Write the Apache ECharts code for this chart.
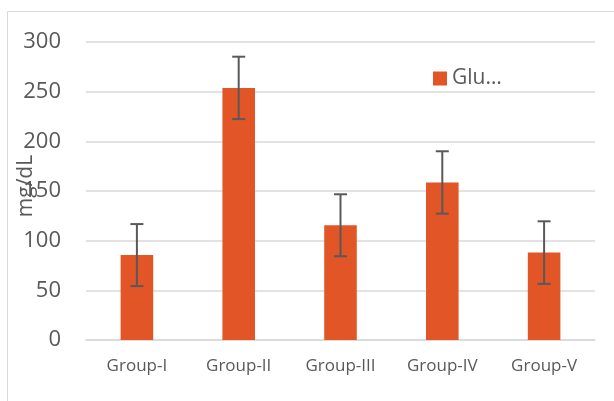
<!DOCTYPE html>
<html>
<head>
<meta charset="utf-8">
<script src="https://cdn.jsdelivr.net/npm/echarts@6/dist/echarts.min.js"></script>
<style>
html,body{margin:0;padding:0;background:#fff;}
#c{width:614px;height:401px;}
</style>
</head>
<body>
<div id="c"></div>
<script>
var categories = ['Group-I', 'Group-II', 'Group-III', 'Group-IV', 'Group-V'];
var seriesName = 'Glu…';
var means = [85.5, 253.8, 115.5, 158.6, 88];
var errors = [31.2, 31.4, 31.2, 31.4, 31.5];
var yTicks = [0, 50, 100, 150, 200, 250, 300];

var errData = means.map(function (m, i) { return [i, m - errors[i], m + errors[i]]; });

var chart = echarts.init(document.getElementById('c'));
chart.setOption({
  animation: false,
  backgroundColor: '#fff',
  graphic: [{
    type: 'rect',
    shape: { x: 7.5, y: 11.5, width: 700, height: 500 },
    style: { fill: 'none', stroke: '#d9d9d9', lineWidth: 1 },
    silent: true
  }],
  grid: { left: 86, right: 19, top: 42, bottom: 61, containLabel: false, outerBoundsMode: 'none' },
  legend: {
    data: [seriesName],
    left: 428, top: 63,
    icon: 'rect', itemWidth: 14, itemHeight: 14, itemGap: 6,
    textStyle: { fontFamily: 'Open Sans', fontSize: 21, color: '#595959' }
  },
  xAxis: {
    type: 'category',
    data: categories,
    axisLine: { lineStyle: { color: '#d9d9d9', width: 1.5 } },
    axisTick: { show: false },
    axisLabel: { fontFamily: 'Open Sans', fontSize: 17, color: '#595959', margin: 18 }
  },
  yAxis: {
    type: 'value',
    min: yTicks[0], max: yTicks[yTicks.length - 1], interval: 50,
    name: 'mg/dL',
    nameLocation: 'middle',
    nameMoveOverlap: false,
    nameGap: 49,
    nameTextStyle: { fontFamily: 'Open Sans', fontSize: 21, color: '#595959', padding: [0, 0, 0, 10] },
    axisLine: { show: false },
    axisTick: { show: false },
    splitLine: { lineStyle: { color: '#d9d9d9', width: 1.5 } },
    axisLabel: { fontFamily: 'Open Sans', fontSize: 22, color: '#595959', margin: 25 }
  },
  series: [{
    name: seriesName,
    type: 'bar',
    data: means,
    barWidth: '32%',
    itemStyle: { color: '#E25527' }
  }, {
    name: 'err',
    type: 'custom',
    data: errData,
    z: 10,
    renderItem: function (params, api) {
      var x = api.value(0);
      var lo = api.coord([x, api.value(1)]);
      var hi = api.coord([x, api.value(2)]);
      var hw = 6.5;
      var st = { stroke: '#595959', lineWidth: 2 };
      return {
        type: 'group',
        children: [
          { type: 'line', shape: { x1: lo[0], y1: lo[1], x2: hi[0], y2: hi[1] }, style: st },
          { type: 'line', shape: { x1: lo[0] - hw, y1: lo[1], x2: lo[0] + hw, y2: lo[1] }, style: st },
          { type: 'line', shape: { x1: hi[0] - hw, y1: hi[1], x2: hi[0] + hw, y2: hi[1] }, style: st }
        ]
      };
    }
  }]
});
</script>
</body>
</html>
